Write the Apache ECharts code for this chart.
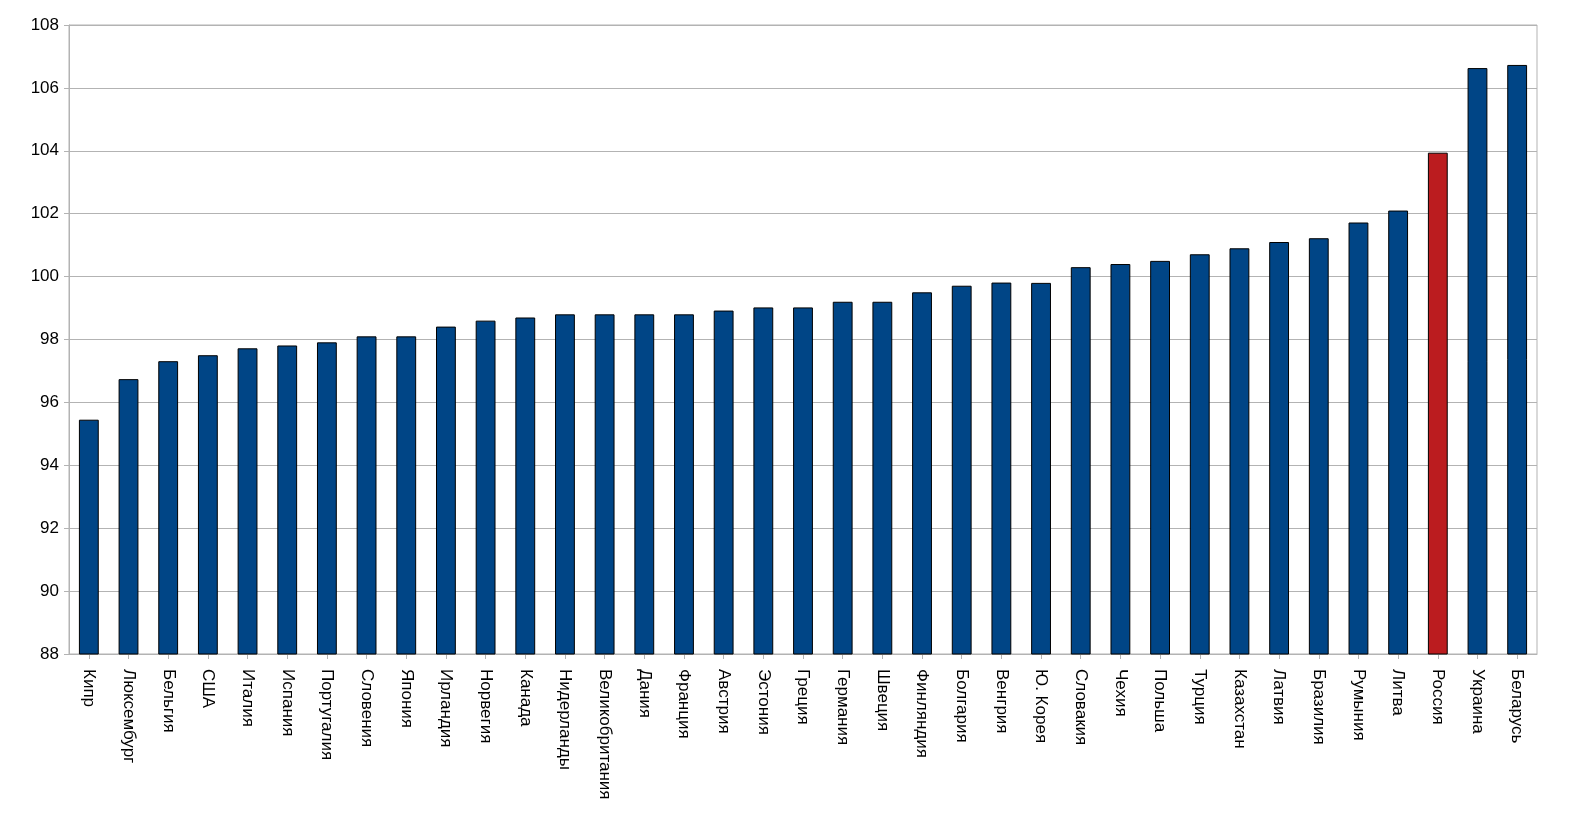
<!DOCTYPE html>
<html>
<head>
<meta charset="utf-8">
<script src="https://cdn.jsdelivr.net/npm/echarts@6/dist/echarts.min.js"></script>
<style>
html,body{margin:0;padding:0;background:#fff;}
#chart{width:1585px;height:830px;}
</style>
</head>
<body>
<div id="chart"></div>
<script>
var categories = ["Кипр","Люксембург","Бельгия","США","Италия","Испания","Португалия","Словения","Япония","Ирландия","Норвегия","Канада","Нидерланды","Великобритания","Дания","Франция","Австрия","Эстония","Греция","Германия","Швеция","Финляндия","Болгария","Венгрия","Ю. Корея","Словакия","Чехия","Польша","Турция","Казахстан","Латвия","Бразилия","Румыния","Литва","Россия","Украина","Беларусь"];
var values = [95.45,96.74,97.31,97.5,97.72,97.81,97.91,98.1,98.1,98.41,98.6,98.7,98.8,98.8,98.8,98.8,98.92,99.02,99.02,99.2,99.2,99.5,99.71,99.81,99.8,100.3,100.4,100.5,100.71,100.9,101.1,101.22,101.72,102.1,103.94,106.63,106.73];
var highlighted = ["Россия"];
var yTicks = {min: 88, max: 108, interval: 2};

var baseColor = "#004586";
var highlightColor = "#bb1c1f";

var seriesData = values.map(function(v, i){
  return {
    value: v,
    itemStyle: {color: highlighted.indexOf(categories[i]) >= 0 ? highlightColor : baseColor}
  };
});

var chart = echarts.init(document.getElementById('chart'), null, {renderer: 'canvas'});
chart.setOption({
  animation: false,
  backgroundColor: '#ffffff',
  grid: {left: 69, right: 48, top: 25, bottom: 176, show: true, borderColor: '#b3b3b3', borderWidth: 1, containLabel: false},
  xAxis: {
    type: 'category',
    data: categories,
    axisLine: {show: true, lineStyle: {color: '#b3b3b3', width: 1}},
    axisTick: {show: true, alignWithLabel: true, length: 5, lineStyle: {color: '#b3b3b3'}},
    axisLabel: {rotate: -90, interval: 0, margin: 15, color: '#000000', fontSize: 17, fontFamily: 'Liberation Sans, Arial, sans-serif'}
  },
  yAxis: {
    type: 'value',
    min: yTicks.min, max: yTicks.max, interval: yTicks.interval,
    axisLine: {show: true, lineStyle: {color: '#b3b3b3', width: 1}},
    axisTick: {show: true, length: 5, lineStyle: {color: '#b3b3b3'}},
    axisLabel: {margin: 10, color: '#000000', fontSize: 17, fontFamily: 'Liberation Sans, Arial, sans-serif'},
    splitLine: {show: true, lineStyle: {color: '#b3b3b3', width: 1}}
  },
  series: [{
    type: 'bar',
    data: seriesData,
    barWidth: '50%',
    itemStyle: {borderColor: '#000000', borderWidth: 1}
  }]
});
</script>
</body>
</html>
